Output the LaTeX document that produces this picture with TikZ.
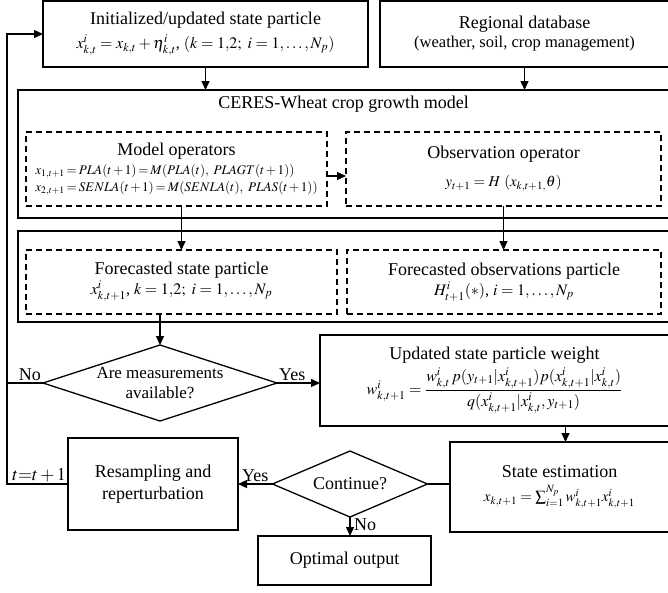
\documentclass[tikz,border=0pt]{standalone}
\usepackage{amsmath}
\usepackage{mathptmx}
\usepackage[no-math]{fontspec}
\setmainfont{Liberation Serif}
\usetikzlibrary{shapes.geometric,arrows.meta}

\tikzset{
  caja/.style={draw, line width=1.3pt, inner sep=0pt, outer sep=0pt, align=center},
  cajad/.style={draw, line width=1.2pt, dash pattern=on 6pt off 4pt, inner sep=0pt, outer sep=0pt, align=center},
  rombo/.style={draw, diamond, line width=1.3pt, inner sep=0pt, outer sep=0pt},
  flecha/.style={line width=1.3pt, -{Triangle[length=9pt,width=8pt]}},
  linea/.style={line width=1.3pt},
  etiq/.style={inner sep=2pt},
}
\newcommand{\mfont}[1]{\fontsize{#1}{18}\selectfont}
\newcommand{\apretado}{\thickmuskip=2.5mu\medmuskip=2mu}

\begin{document}
\begin{tikzpicture}[x=1pt, y=-1pt, font=\fontsize{18}{22}\selectfont]

    \clip (0,0) rectangle (668,592);

    % Cajas superiores
    \node[caja, minimum width=325pt, minimum height=66pt] (ini) at (205.5,34)
      {Initialized/updated state particle\\[2pt]
       {\mfont{16}$x^i_{k,t} = x_{k,t} + \eta^i_{k,t}$, $(k = 1{,}2;\ i = 1,\ldots,N_p)$}};
    \node[caja, minimum width=289pt, minimum height=66pt] (db) at (524.5,34)
      {Regional database\\[-3pt]
       {\fontsize{16.5}{18}\selectfont (weather, soil, crop management)}};

    % Modelo CERES-Wheat
    \node[caja, minimum width=651pt, minimum height=128pt] (ceres) at (343.5,154) {};
    \node (ceresT) at (343.5,104) {CERES-Wheat crop growth model};
    \node[cajad, minimum width=301pt, minimum height=74pt] (mop) at (176.5,169)
      {\begin{tabular}{@{}l@{}}
        \multicolumn{1}{@{}c@{}}{Model operators}\\[-3pt]
        {\mfont{13.2}\apretado$x_{1,t+1} = PLA(t+1) = M(PLA(t),\ PLAGT(t+1))$}\\[-5pt]
        {\mfont{13.2}\apretado$x_{2,t+1} = SENLA(t+1) = M(SENLA(t),\ PLAS(t+1))$}
       \end{tabular}};
    \node[cajad, minimum width=315pt, minimum height=74pt] (obs) at (503.5,169)
      {Observation operator\\[6pt]
       {\mfont{15}$y_{t+1} = H\ (x_{k,t+1,}\theta)$}};

    % Particulas pronosticadas
    \node[caja, minimum width=651pt, minimum height=91pt] (fore) at (343.5,276.5) {};
    \node[cajad, minimum width=311pt, minimum height=64pt] (fs) at (181.5,282)
      {Forecasted state particle\\[-2pt]
       {\mfont{16}$x^i_{k,t+1}$, $k = 1{,}2;\ i = 1,\ldots,N_p$}};
    \node[cajad, minimum width=314pt, minimum height=64pt] (fo) at (504,282)
      {Forecasted observations particle\\[-2pt]
       {\mfont{16}$H^i_{t+1}(*)$, $i = 1,\ldots,N_p$}};

    % Decisiones y pasos
    \node[rombo, minimum width=234pt, minimum height=76pt] (d1) at (160,383) {};
    \node[align=center, font=\fontsize{17}{20}\selectfont] (d1t) at (d1) {Are measurements\\available?};
    \node[caja, minimum width=349pt, minimum height=91pt] (upd) at (494.5,380.5)
      {Updated state particle weight\\[3pt]
       {\mfont{16}$w^i_{k,t+1} = \dfrac{w^i_{k,t}\,p(y_{t+1}|x^i_{k,t+1})p(x^i_{k,t+1}|x^i_{k,t})}{q(x^i_{k,t+1}|x^i_{k,t}, y_{t+1})}$}};
    \node[caja, minimum width=219pt, minimum height=90pt] (est) at (559.5,487)
      {State estimation\\[2pt]
       {\mfont{15}$x_{k,t+1} = \sum_{i=1}^{N_p} w^i_{k,t+1}x^i_{k,t+1}$}};
    \node[rombo, minimum width=155pt, minimum height=66pt] (d2) at (350,484) {};
    \node (d2t) at (d2) {Continue?};
    \node[caja, minimum width=170pt, minimum height=92pt] (res) at (153,484)
      {Resampling and\\reperturbation};
    \node[caja, minimum width=173pt, minimum height=49pt] (opt) at (344.5,560.5)
      {Optimal output};

    % Retorno
    \coordinate (ret) at (7,0);

    % Flechas
    \draw[flecha] (ini.south) -- (ini.south |- ceres.north);
    \draw[flecha] (db.south) -- (db.south |- ceres.north);
    \draw[flecha] ([yshift=-7pt]mop.east) coordinate (m1) -- (m1 -| obs.west);
    \draw[flecha] (fs.north |- mop.south) -- (fs.north);
    \draw[flecha] (obs.south) -- (obs.south |- fo.north);
    \draw[flecha] (d1.north |- fs.south) -- (d1.north);
    \draw[flecha] (d1.east) -- (d1.east -| upd.west);
    \draw[flecha] ([xshift=6pt]est.north |- upd.south) -- ([xshift=6pt]est.north);
    \draw[linea] (d2.east -| est.west) -- (d2.east);
    \draw[flecha] (d2.west) -- (res.east);
    \draw[flecha] (d2.south) -- (d2.south |- opt.north);
    \draw[linea] (d1.west) -- (d1.west -| ret);
    \draw[flecha] (res.west) -- (res.west -| ret) |- (ini.west);

    % Etiquetas
    \node[etiq, anchor=south east] (no1) at (d1.west) {No};
    \node[etiq, anchor=south west] (si1) at (d1.east) {Yes};
    \node[etiq, anchor=south east] (si2) at ([xshift=-2pt]d2.west) {Yes};
    \node[etiq, anchor=north west] (no2) at ([xshift=2pt]d2.south) {No};
    \node[etiq, anchor=south east] (tt) at (res.west) {$t{=}t+1$};

  \end{tikzpicture}
\end{document}
